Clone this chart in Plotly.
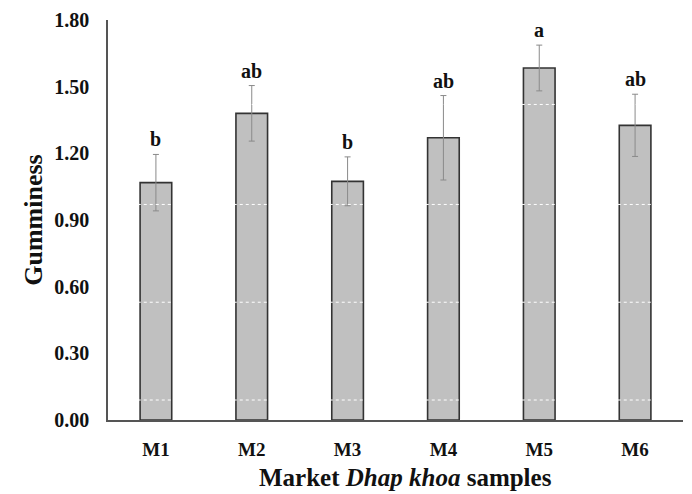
import plotly.graph_objects as go

categories = ["M1", "M2", "M3", "M4", "M5", "M6"]
gumminess = [1.068, 1.380, 1.074, 1.270, 1.584, 1.326]
std_err = [0.127, 0.125, 0.110, 0.190, 0.103, 0.140]
letters = ["b", "ab", "b", "ab", "a", "ab"]
y_ticks = [0.0, 0.3, 0.6, 0.9, 1.2, 1.5, 1.8]
y_tick_labels = ["0.00", "0.30", "0.60", "0.90", "1.20", "1.50", "1.80"]
dotted_levels = [0.09, 0.53, 0.97, 1.42]
x_title = "<b>Market <i>Dhap khoa</i> samples</b>"
y_title = "<b>Gumminess</b>"

FONT = "Liberation Serif, Times New Roman, serif"

fig = go.Figure()
fig.add_trace(go.Bar(
    x=categories, y=gumminess,
    marker=dict(color="#c0c0c0", line=dict(color="#333333", width=1.6)),
    error_y=dict(type="data", array=std_err, visible=True,
                 color="#8a8a8a", thickness=1, width=3),
    width=0.33,
))

for c, v, e, t in zip(categories, gumminess, std_err, letters):
    fig.add_annotation(x=c, y=v + e, text=f"<b>{t}</b>", showarrow=False,
                       yanchor="middle", yshift=15,
                       font=dict(family=FONT, size=20, color="#111"))

fig.add_annotation(xref="paper", yref="paper", x=0.518, y=0, text=x_title,
                   showarrow=False, yanchor="middle", yshift=-57, borderpad=0,
                   font=dict(family=FONT, size=25, color="#111"))

for lv in dotted_levels:
    fig.add_shape(type="line", xref="paper", x0=0.01, x1=1, yref="y", y0=lv, y1=lv,
                  line=dict(color="white", width=1, dash="dot"), layer="above")

fig.update_layout(
    width=684, height=486,
    margin=dict(l=100, r=9, t=12, b=74, autoexpand=False),
    plot_bgcolor="white", paper_bgcolor="white",
    showlegend=False,
    font=dict(family=FONT, color="#111"),
    xaxis=dict(
        showline=True, linecolor="#555", linewidth=1.5,
        showgrid=False, ticks="", automargin=False,
        tickvals=categories, ticktext=[f"<b>{c}</b>" for c in categories],
        tickfont=dict(family=FONT, size=19, color="#111"),
        ticklabelstandoff=11,
    ),
    yaxis=dict(
        range=[0, 1.8], showline=True, linecolor="#555", linewidth=1.5,
        showgrid=False, ticks="", zeroline=False, automargin=False,
        tickvals=y_ticks, ticktext=[f"<b>{s}</b>" for s in y_tick_labels],
        tickfont=dict(family=FONT, size=20, color="#111"),
        ticklabelstandoff=13,
        title=dict(text=y_title,
                   font=dict(family=FONT, size=26, color="#111"), standoff=4),
    ),
)

fig.write_html("out.html")
